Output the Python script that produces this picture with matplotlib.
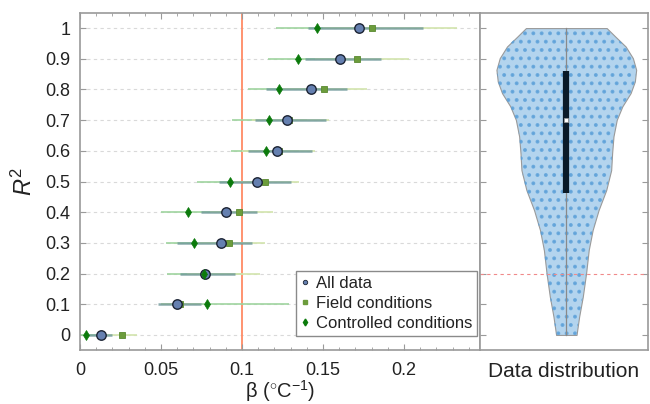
import matplotlib
matplotlib.use("Agg")
import matplotlib.pyplot as plt
from matplotlib.lines import Line2D
from matplotlib.ticker import MultipleLocator

plt.rcParams['font.family'] = ['Liberation Sans', 'DejaVu Sans']
plt.rcParams['mathtext.fontset'] = 'custom'
plt.rcParams['mathtext.rm'] = 'Liberation Sans'
plt.rcParams['mathtext.it'] = 'Liberation Sans:italic'
plt.rcParams['hatch.linewidth'] = 1.6

# ---------------- data ----------------
r2_levels = [0.0, 0.1, 0.2, 0.3, 0.4, 0.5, 0.6, 0.7, 0.8, 0.9, 1.0]
r2_labels = ['0', '0.1', '0.2', '0.3', '0.4', '0.5', '0.6', '0.7', '0.8', '0.9', '1']

all_mean = [0.013, 0.060, 0.077, 0.087, 0.090, 0.1095, 0.1216, 0.1278, 0.1428, 0.1607, 0.1724]
all_lo = [0.005, 0.048, 0.062, 0.060, 0.075, 0.086, 0.104, 0.108, 0.115, 0.139, 0.1407]
all_hi = [0.020, 0.075, 0.096, 0.106, 0.109, 0.130, 0.143, 0.152, 0.165, 0.186, 0.2115]

field_mean = [0.0257, 0.0617, 0.078, 0.0922, 0.0983, 0.114, 0.1228, 0.129, 0.1508, 0.171, 0.180]
field_lo = [0.015, 0.050, 0.066, 0.072, 0.080, 0.092, 0.100, 0.106, 0.125, 0.145, 0.150]
field_hi = [0.035, 0.075, 0.111, 0.114, 0.119, 0.135, 0.145, 0.154, 0.177, 0.203, 0.233]

ctrl_mean = [0.004, 0.0784, 0.0767, 0.0702, 0.0665, 0.0924, 0.1148, 0.1169, 0.1226, 0.1348, 0.1465]
ctrl_lo = [0.000, 0.050, 0.0535, 0.053, 0.050, 0.072, 0.093, 0.094, 0.104, 0.116, 0.121]
ctrl_hi = [0.010, 0.129, 0.100, 0.100, 0.090, 0.115, 0.135, 0.140, 0.150, 0.160, 0.185]

x_ticks = [0, 0.05, 0.1, 0.15, 0.2]
x_ticklabels = ['0', '0.05', '0.1', '0.15', '0.2']
ref_beta = 0.1

# violin outline of R^2 distribution (relative half-width)
violin_y = [0.0, 0.06, 0.125, 0.201, 0.277, 0.342, 0.407, 0.472, 0.537, 0.593,
            0.647, 0.701, 0.745, 0.788, 0.826, 0.864, 0.902, 0.940, 0.972, 1.0]
violin_hw = [0.146, 0.184, 0.236, 0.283, 0.321, 0.377, 0.462, 0.571, 0.642, 0.656,
             0.675, 0.722, 0.802, 0.920, 0.981, 1.0, 0.953, 0.849, 0.703, 0.578]
q1, median, q3 = 0.462, 0.70, 0.861
r2_min, r2_max = 0.0, 1.0
r2_threshold = 0.2

# ---------------- figure ----------------
fig = plt.figure(figsize=(6.5, 4.04), dpi=100)
ax = fig.add_axes([0.123, 0.1337, 0.6154, 0.834])
ax2 = fig.add_axes([0.7385, 0.1337, 0.2585, 0.834])

spine_c = '#9a9a9a'
text_c = '#222222'

# gridlines
for y in r2_levels:
    ax.axhline(y, color='#d9d9d9', lw=0.8, ls=(0, (3, 3)), zorder=0.5)

ax.axvline(ref_beta, color='#ff8a65', lw=1.3, zorder=1.5)

# CI lines
for i, y in enumerate(r2_levels):
    ax.plot([ctrl_lo[i], ctrl_hi[i]], [y, y], color='#9fd49f', lw=1.2, zorder=2, solid_capstyle='butt')
    ax.plot([field_lo[i], field_hi[i]], [y, y], color='#d2e4ad', lw=1.2, zorder=2.1, solid_capstyle='butt')
    ax.plot([all_lo[i], all_hi[i]], [y, y], color='#6e9899', lw=1.8, alpha=0.8, zorder=2.2, solid_capstyle='butt')

ax.plot(field_mean, r2_levels, ls='none', marker='s', ms=4.2, mfc='#6c9c3c', mec='#5a8a30', mew=0.6, zorder=3)
ax.plot(all_mean, r2_levels, ls='none', marker='o', ms=6.8, mfc='#6580b0', mec='#1b2333', mew=1.0, zorder=3.1)
ax.plot(ctrl_mean, r2_levels, ls='none', marker='d', ms=5.2, mfc='#0b7a0b', mec='#0b7a0b', mew=0.5, zorder=3.2)

ax.set_xlim(0, 0.2469)
ax.set_ylim(-0.049, 1.049)
ax.set_xticks(x_ticks)
ax.set_xticklabels(x_ticklabels)
ax.xaxis.set_minor_locator(MultipleLocator(0.01))
ax.set_yticks(r2_levels)
ax.set_yticklabels(r2_labels)
ax.tick_params(axis='both', which='major', direction='in', length=4, color=spine_c,
               labelsize=13, labelcolor=text_c, top=True)
ax.tick_params(axis='x', which='minor', direction='in', length=2.5, color=spine_c, top=True)
ax.tick_params(axis='x', pad=9)
ax.tick_params(axis='y', pad=7)
for s in ax.spines.values():
    s.set_color(spine_c)
    s.set_linewidth(1.2)

ax.set_xlabel('β ($^{\\circ}$C$^{-1}$)', fontsize=14.5, color=text_c, labelpad=-1)
ax.set_ylabel('$R^2$', fontsize=17, color=text_c, labelpad=6)

handles = [
    Line2D([], [], ls='none', marker='o', ms=3.2, mfc='#6580b0', mec='#1b2333', mew=0.6),
    Line2D([], [], ls='none', marker='s', ms=2.8, mfc='#6c9c3c', mec='#6c9c3c'),
    Line2D([], [], ls='none', marker='d', ms=3.5, mfc='#0b7a0b', mec='#0b7a0b'),
]
leg = ax.legend(handles, ['All data', 'Field conditions', 'Controlled conditions'],
                loc='lower right', bbox_to_anchor=(0.9925, 0.0415), borderaxespad=0,
                fontsize=12, handlelength=0.4, handletextpad=0.45, labelspacing=0.3,
                borderpad=0.3, fancybox=False, framealpha=1, edgecolor='#8a8a8a')
leg.get_frame().set_linewidth(1.0)
for t in leg.get_texts():
    t.set_color(text_c)

# ---------------- violin ----------------
neg_hw = [-h for h in violin_hw]
ax2.fill_betweenx(violin_y, neg_hw, violin_hw, facecolor='#b3d4ee', edgecolor='#9a9a9a',
                  lw=0.8, zorder=1)
ax2.fill_betweenx(violin_y, neg_hw, violin_hw, facecolor='none', edgecolor='#5a9fd8',
                  lw=0, hatch='..', alpha=0.8, zorder=1.2)
ax2.plot([0, 0], [r2_min, r2_max], color='#8a8a8a', lw=0.9, zorder=2)
ax2.plot([0, 0], [q1, q3], color='#0a1a28', lw=4.5, solid_capstyle='butt', zorder=3)
ax2.plot([0], [median], ls='none', marker='s', ms=3.2, mfc='white', mec='#999999', mew=0.5, zorder=4)
ax2.axhline(r2_threshold, color='#f08a8a', lw=0.8, ls=(0, (3, 3)), zorder=2.5)

ax2.set_xlim(-1.235, 1.17)
ax2.set_ylim(-0.049, 1.049)
ax2.set_xticks([])
ax2.set_yticks(r2_levels)
ax2.set_yticklabels([])
ax2.tick_params(axis='y', direction='in', length=4, color=spine_c, left=True, right=True)
for s in ax2.spines.values():
    s.set_color(spine_c)
    s.set_linewidth(1.2)
ax2.set_xlabel('Data distribution', fontsize=15, color=text_c, labelpad=9)

fig.savefig('out.png', dpi=100)
